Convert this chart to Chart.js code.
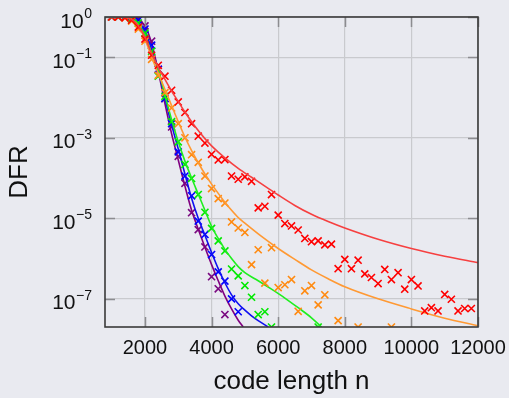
<!DOCTYPE html>
<html>
<head>
<meta charset="utf-8">
<script src="https://cdn.jsdelivr.net/npm/chart.js@4/dist/chart.umd.min.js"></script>
<style>
  html, body { margin: 0; padding: 0; background: #e9eaf0; }
  #wrap { width: 509px; height: 398px; }
</style>
</head>
<body>
<div id="wrap"><canvas id="c" width="509" height="398"></canvas></div>
<script>
// ---- data (DFR values, stored as log10 exponents) ----
const xTickValues = [2000, 4000, 6000, 8000, 10000, 12000];
const yTickValues = [1e-7, 1e-5, 1e-3, 1e-1, 1];
const yTickBase = '10';
const yTickExponents = ['−7', '−5', '−3', '−1', '0'];
const xAxisTitle = 'code length n';
const yAxisTitle = 'DFR';

// fitted curves (x, log10 DFR)
const redLineX   = [800,1000,1200,1400,1600,1800,2000,2200,2400,2600,2800,3000,3200,3400,3600,3800,4000,4400,4800,5200,5600,6000,6500,7000,7500,8000,9000,10000,11000,12000];
const redLineE   = [0,0,0,-0.01,-0.06,-0.22,-0.5,-0.9,-1.25,-1.55,-1.84,-2.1,-2.36,-2.6,-2.82,-3.02,-3.2,-3.5,-3.76,-3.98,-4.2,-4.42,-4.68,-4.9,-5.08,-5.24,-5.52,-5.75,-5.94,-6.10];
const orangeLineX = [800,1000,1200,1400,1600,1800,2000,2200,2400,2600,2800,3000,3200,3400,3600,3800,4000,4200,4400,4600,4800,5000,5500,6000,6500,7000,7500,8000,9000,10000,11000,12000];
const orangeLineE = [0,0,0,-0.01,-0.06,-0.22,-0.55,-1.0,-1.4,-1.8,-2.2,-2.6,-2.98,-3.32,-3.62,-3.9,-4.15,-4.38,-4.6,-4.8,-4.98,-5.12,-5.45,-5.75,-6.02,-6.28,-6.5,-6.7,-7.0,-7.25,-7.48,-7.67];
const greenLineX = [800,1000,1200,1400,1600,1800,2000,2200,2400,2600,2800,3000,3200,3400,3600,3800,4000,4200,4400,4600,4800,5000,5400,5800,6200,6600,7000,7300];
const greenLineE = [0,0,0,-0.01,-0.05,-0.18,-0.45,-0.9,-1.3,-1.95,-2.55,-3.1,-3.58,-4.0,-4.4,-4.8,-5.2,-5.5,-5.77,-6.0,-6.2,-6.35,-6.55,-6.76,-6.98,-7.22,-7.47,-7.7];
const blueLineX  = [800,1000,1200,1400,1600,1800,2000,2200,2400,2600,2800,3000,3200,3400,3600,3800,4000,4200,4400,4600,4800,5000,5200,5400,5700];
const blueLineE  = [0,0,0,-0.01,-0.04,-0.14,-0.35,-0.8,-1.32,-2.02,-2.68,-3.28,-3.9,-4.5,-5.0,-5.42,-5.85,-6.25,-6.6,-6.9,-7.12,-7.28,-7.42,-7.54,-7.7];
const purpleLineX = [800,1000,1200,1400,1600,1800,2000,2200,2400,2600,2800,3000,3200,3400,3600,3800,4000,4200,4400,4600,4800,4950];
const purpleLineE = [0,0,0,0,-0.01,-0.05,-0.22,-0.65,-1.35,-2.15,-2.9,-3.55,-4.2,-4.8,-5.27,-5.72,-6.15,-6.55,-6.93,-7.25,-7.53,-7.7];

// simulated points (x, log10 DFR); -7.7 = drawn on the lower frame edge
const redPtsX = [1000,1200,1400,1600,1800,2000,2200,2400,2600,2800,3000,3200,3400,3600,3800,4000,4200,4400,4600,4800,5000,5200,5400,5600,5800,6000,6200,6400,6600,6800,7000,7200,7400,7600,7800,8000,8200,8400,8600,8800,9000,9200,9400,9600,9800,10000,10200,10400,10600,10800,11000,11200,11400,11600,11800];
const redPtsE = [0,0,-0.02,-0.08,-0.25,-0.55,-0.95,-1.2,-1.47,-1.82,-2.11,-2.37,-2.65,-2.96,-3.13,-3.41,-3.55,-3.54,-3.95,-4.03,-3.97,-4.08,-4.74,-4.70,-4.41,-4.92,-5.13,-5.19,-5.29,-5.50,-5.58,-5.56,-5.66,-5.64,-6.25,-6.02,-6.25,-6.04,-6.38,-6.47,-6.62,-6.27,-6.52,-6.35,-6.76,-6.52,-6.68,-7.30,-7.22,-7.30,-6.89,-7.01,-7.30,-7.24,-7.24];
const orangePtsX = [1000,1200,1400,1600,1800,2000,2200,2400,2600,2800,3000,3200,3400,3600,3800,4000,4200,4400,4600,4800,5000,5200,5400,5600,5800,6000,6200,6400,6600,6800,7000,7200,7400,7800,8400,9400];
const orangePtsE = [0,0,-0.02,-0.1,-0.3,-0.6,-1.05,-1.45,-1.88,-2.26,-2.65,-3.0,-3.42,-3.61,-3.95,-4.26,-4.51,-4.62,-5.09,-5.24,-5.35,-6.15,-5.78,-6.61,-5.73,-6.72,-6.65,-6.52,-7.31,-6.80,-6.67,-7.15,-6.90,-7.54,-7.7,-7.7];
const greenPtsX = [1000,1200,1400,1600,1800,2000,2200,2400,2600,2800,3000,3200,3400,3600,3800,4000,4200,4400,4600,4800,5000,5200,5400,5600,5800,7200];
const greenPtsE = [0,0,-0.01,-0.05,-0.15,-0.4,-0.85,-1.47,-1.97,-2.6,-3.1,-3.66,-4.01,-4.41,-4.85,-5.25,-5.56,-5.81,-6.26,-6.43,-6.67,-6.96,-7.39,-7.32,-7.7,-7.7];
const bluePtsX = [1000,1200,1400,1600,1800,2000,2200,2400,2600,2800,3000,3200,3400,3600,3800,4000,4200,4400,4600,4800];
const bluePtsE = [0,0,0,-0.02,-0.08,-0.3,-0.7,-1.3,-2.02,-2.65,-3.35,-3.95,-4.44,-5.07,-5.40,-5.90,-6.33,-6.56,-7.00,-7.32];
const purplePtsX = [1000,1200,1400,1600,1800,2000,2200,2400,2600,2800,3000,3200,3400,3600,3800,4000,4200,4400];
const purplePtsE = [0,0,0,-0.01,-0.04,-0.22,-0.6,-1.3,-2.03,-2.73,-3.46,-4.13,-4.86,-5.28,-5.71,-6.45,-6.75,-7.39];

const seriesColors = {
  red:    { line: '#f64040', mark: '#ff0000' },
  orange: { line: '#ff9933', mark: '#ff8a10' },
  green:  { line: '#1fef1f', mark: '#00e800' },
  blue:   { line: '#1010f0', mark: '#0000ff' },
  purple: { line: '#800080', mark: '#7a0a80' }
};

const FONT = "'Liberation Sans', Arial, Helvetica, sans-serif";

// ---- build chart structures ----
function toPts(xs, es) { return xs.map((x, i) => ({ x: x, y: Math.pow(10, es[i]) })); }
function lineDS(name, xs, es) {
  return { label: name + ' fit', data: toPts(xs, es), borderColor: seriesColors[name].line,
    borderWidth: 1.6, pointRadius: 0, showLine: true, fill: false, cubicInterpolationMode: 'monotone' };
}
function ptsDS(name, xs, es) {
  return { label: name + ' sim', data: toPts(xs, es), borderColor: seriesColors[name].mark,
    backgroundColor: seriesColors[name].mark, showLine: false, pointStyle: 'crossRot',
    pointRadius: 5, pointBorderWidth: 1.6, pointHoverRadius: 5 };
}

const datasets = [
  lineDS('red', redLineX, redLineE), ptsDS('red', redPtsX, redPtsE),
  lineDS('orange', orangeLineX, orangeLineE), ptsDS('orange', orangePtsX, orangePtsE),
  lineDS('green', greenLineX, greenLineE), ptsDS('green', greenPtsX, greenPtsE),
  lineDS('blue', blueLineX, blueLineE), ptsDS('blue', bluePtsX, bluePtsE),
  lineDS('purple', purpleLineX, purpleLineE), ptsDS('purple', purplePtsX, purplePtsE)
];

const bgPlugin = {
  id: 'bg',
  beforeDraw(chart) {
    const ctx = chart.ctx;
    ctx.save();
    ctx.fillStyle = '#e9eaf0';
    ctx.fillRect(0, 0, chart.width, chart.height);
    ctx.restore();
  }
};

// y tick labels as 10 with a raised exponent
const yLabelPlugin = {
  id: 'ylabels',
  afterDraw(chart) {
    const { ctx, chartArea: a, scales } = chart;
    const y = scales.y;
    ctx.save();
    ctx.fillStyle = '#111';
    ctx.textBaseline = 'alphabetic';
    yTickValues.forEach((v, i) => {
      const py = y.getPixelForValue(v);
      const right = a.left - 13;
      ctx.font = '14px ' + FONT;
      ctx.textAlign = 'right';
      const ew = ctx.measureText(yTickExponents[i]).width;
      ctx.fillText(yTickExponents[i], right, py + 1);
      ctx.font = '21px ' + FONT;
      ctx.fillText(yTickBase, right - ew - 0.5, py + 10.5);
    });
    ctx.restore();
  }
};

const framePlugin = {
  id: 'frame',
  afterDraw(chart) {
    const { ctx, chartArea: a, scales } = chart;
    const x = scales.x, y = scales.y;
    ctx.save();
    ctx.strokeStyle = '#8c8c90';
    ctx.lineWidth = 1.5;
    ctx.beginPath();
    xTickValues.forEach(v => {
      const px = Math.round(x.getPixelForValue(v)) + 0.5;
      ctx.moveTo(px, a.bottom); ctx.lineTo(px, a.bottom - 10);
      ctx.moveTo(px, a.top); ctx.lineTo(px, a.top + 10);
    });
    yTickValues.forEach(v => {
      const py = Math.round(y.getPixelForValue(v)) + 0.5;
      ctx.moveTo(a.left, py); ctx.lineTo(a.left + 10, py);
      ctx.moveTo(a.right, py); ctx.lineTo(a.right - 10, py);
    });
    ctx.stroke();
    ctx.strokeStyle = '#3a3a3a';
    ctx.lineWidth = 1.6;
    ctx.strokeRect(a.left, a.top, a.right - a.left, a.bottom - a.top);
    ctx.restore();
  }
};

Chart.defaults.font.family = FONT;
Chart.defaults.color = '#111';

function zeroPad(s) { s.paddingLeft = 0; s.paddingRight = 0; s.paddingTop = 0; s.paddingBottom = 0; }

new Chart(document.getElementById('c'), {
  type: 'scatter',
  data: { datasets: datasets },
  options: {
    responsive: false,
    animation: false,
    events: [],
    layout: { padding: { top: 17, right: 31, left: 0, bottom: 0 } },
    plugins: { legend: { display: false }, tooltip: { enabled: false } },
    scales: {
      x: {
        type: 'linear', min: 800, max: 12000,
        afterBuildTicks: s => { s.ticks = xTickValues.map(v => ({ value: v })); },
        afterFit: s => { s.height = 71; zeroPad(s); },
        ticks: { font: { size: 20 }, color: '#111', padding: 9, maxRotation: 0, autoSkip: false,
                 callback: v => String(v) },
        grid: { color: '#c9cace', lineWidth: 1.2, drawTicks: false },
        border: { display: false },
        title: { display: true, text: xAxisTitle, font: { size: 26 }, color: '#111', padding: { top: 0, bottom: 1 } }
      },
      y: {
        type: 'logarithmic', min: 2e-8, max: 1,
        afterBuildTicks: s => { s.ticks = yTickValues.map(v => ({ value: v })); },
        afterFit: s => { s.width = 105; zeroPad(s); },
        ticks: { display: false },
        grid: { color: '#c9cace', lineWidth: 1.2, drawTicks: false },
        border: { display: false },
        title: { display: true, text: yAxisTitle, font: { size: 26 }, color: '#111', padding: { top: 4, bottom: 0 } }
      }
    }
  },
  plugins: [bgPlugin, yLabelPlugin, framePlugin]
});
</script>
</body>
</html>
